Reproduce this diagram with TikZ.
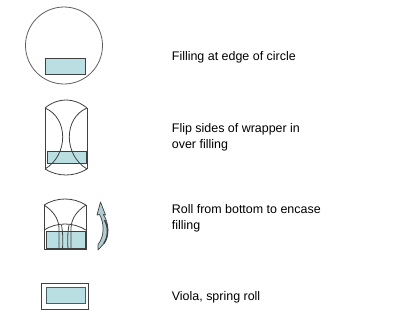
\documentclass[tikz,border=0pt]{standalone}
\usepackage{fontspec}
\setmainfont{Liberation Sans}
\definecolor{fillblue}{RGB}{186,223,227}
\definecolor{edge}{RGB}{64,64,64}
\definecolor{rimgray}{RGB}{95,95,95}
\definecolor{innerline}{RGB}{70,95,100}
\definecolor{curlfill}{RGB}{175,205,210}
\tikzset{
  lbl/.style={inner sep=0pt, align=left, font=\fontsize{12.5}{15.6}\selectfont, text=black},
  wrap/.style={draw=edge, line width=0.8bp},
  filling/.style={fill=fillblue, draw=edge, line width=0.8bp},
}
\begin{document}
\begin{tikzpicture}[x=1bp,y=-1bp]
\useasboundingbox (0,0) rectangle (400,332);
% ---- step 1: circle with filling
\draw[draw=rimgray, line width=0.8bp] (64,45.5) circle[radius=38.5bp];
\node[filling, minimum width=40bp, minimum height=16bp, inner sep=0pt, anchor=north west] (f1) at (45,58.3) {};
% ---- step 2: sides flipped
\fill[fillblue] (47.3,151.7) rectangle (86.7,163.5);
\draw[wrap] (47.3,151.7) rectangle (86.7,163.5);
\draw[wrap] (45,108) -- (45,169);
\draw[wrap] (87,108) -- (87,169);
\draw[wrap] (45,108) .. controls (58,97.3) and (74,97.3) .. (87,108);
\draw[wrap] (45,169) .. controls (58,177) and (74,177) .. (87,169);
\draw[wrap] (45,108) .. controls (68.6,118) and (68.6,155) .. (45,169);
\draw[wrap] (87,108) .. controls (63.4,118) and (63.4,155) .. (87,169);
% ---- step 3: rolled from bottom
\fill[fillblue] (46.7,231) rectangle (85,248);
\draw[wrap] (46.7,231) rectangle (85,248);
\draw[wrap] (44,205) -- (44,249) -- (86,249) -- (86,205);
\draw[wrap] (44,205) .. controls (57,197) and (73,197) .. (86,205);
\draw[wrap] (44,230) .. controls (57,222) and (73,222) .. (86,230);
\draw[wrap] (44,205) .. controls (53,211) and (58.5,218) .. (59,228) -- (59,249);
\draw[wrap] (86,205) .. controls (77,211) and (71.5,218) .. (71,228) -- (71,249);
\draw[wrap] (61.5,225) .. controls (63,233) and (63,241) .. (62.5,249);
\draw[wrap] (69,225) .. controls (67.5,233) and (67.5,241) .. (68,249);
% curled arrow
\draw[fill=curlfill, draw=edge, line width=0.7bp, line join=round]
  (100.5,202) -- (105.5,215) -- (103.2,214.5)
  .. controls (109,222) and (110,237) .. (103.5,244)
  -- (98,250) -- (98,244.5)
  .. controls (104.5,237) and (104.5,223) .. (99.5,214.5)
  -- (97,215) -- cycle;
\draw[edge, line width=1.4bp] (104.5,220) .. controls (108.5,227) and (108.5,237) .. (103.8,243.5);
% ---- step 4: spring roll
\draw[draw=edge, line width=0.8bp] (41.7,283.3) rectangle (88.3,309.3);
\fill[fillblue] (46,287.3) rectangle (85.7,303.3);
\draw[draw=innerline, line width=1bp] (46,287.3) rectangle (85.7,303.3);
% ---- labels (base anchor of a two-line node is on its last line)
\node[lbl, anchor=base west] (t1) at (171.7,60.7) {Filling at edge of circle};
\node[lbl, anchor=base west] (t2) at (171.7,148.3) {Flip sides of wrapper in\\over filling};
\node[lbl, anchor=base west] (t3) at (171.7,229) {Roll from bottom to encase\\filling};
\node[lbl, anchor=base west] (t4) at (171.7,300) {Viola, spring roll};
\end{tikzpicture}
\end{document}
